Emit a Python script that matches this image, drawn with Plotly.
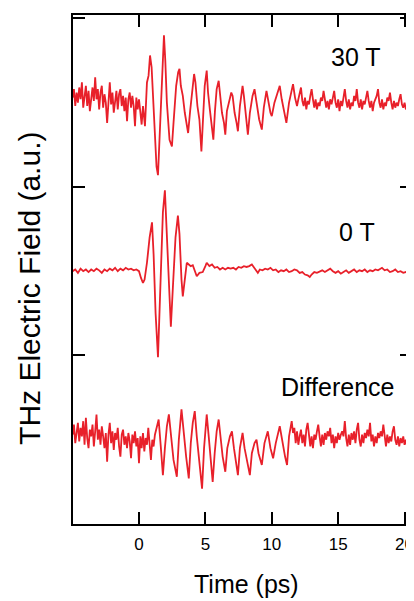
import plotly.graph_objects as go

# ---------------- data ----------------
# 30 T trace: time (ps) and field (a.u., relative to its own baseline)
t_30T = [
    -5.0, -4.9, -4.8, -4.7, -4.6, -4.5, -4.4, -4.3, -4.2, -4.1, -4.0, -3.9, -3.8, -3.7, -3.6,
    -3.5, -3.4, -3.3, -3.2, -3.1, -3.0, -2.9, -2.8, -2.7, -2.6, -2.5, -2.4, -2.3, -2.2, -2.1,
    -2.0, -1.9, -1.8, -1.7, -1.6, -1.5, -1.4, -1.3, -1.2, -1.1, -1.0, -0.9, -0.8, -0.7, -0.6,
    -0.5, -0.4, -0.3, -0.2, -0.1, 0.0, 0.1, 0.2, 0.3,
    0.45, 0.6, 0.72, 0.83, 0.95, 1.05, 1.2, 1.32, 1.43, 1.55, 1.7, 1.88, 1.98, 2.1, 2.3, 2.48,
    2.6, 2.8, 2.95, 3.05, 3.15, 3.3, 3.45, 3.6, 3.7, 3.85, 4.0, 4.15, 4.25, 4.4, 4.55, 4.7,
    4.82, 4.95, 5.1, 5.2, 5.35, 5.5, 5.6, 5.72, 5.85, 6.0, 6.1, 6.25, 6.4, 6.5, 6.62, 6.8,
    6.95, 7.05, 7.2, 7.35, 7.45, 7.6, 7.8, 7.9, 8.05, 8.2, 8.35, 8.55, 8.7, 8.85, 9.05, 9.25,
    9.4, 9.6, 9.75, 9.9, 10.0, 10.2, 10.4, 10.6, 10.75, 10.95, 11.1, 11.3, 11.45, 11.6, 11.75, 11.9,
    12.0, 12.1, 12.2, 12.3, 12.4, 12.5, 12.6, 12.7, 12.8, 12.9, 13.0, 13.1, 13.2, 13.3, 13.4,
    13.5, 13.6, 13.7, 13.8, 13.9, 14.0, 14.1, 14.2, 14.3, 14.4, 14.5, 14.6, 14.7, 14.8, 14.9,
    15.0, 15.1, 15.2, 15.3, 15.4, 15.5, 15.6, 15.7, 15.8, 15.9, 16.0, 16.1, 16.2, 16.3, 16.4,
    16.5, 16.6, 16.7, 16.8, 16.9, 17.0, 17.1, 17.2, 17.3, 17.4, 17.5, 17.6, 17.7, 17.8, 17.9,
    18.0, 18.1, 18.2, 18.3, 18.4, 18.5, 18.6, 18.7, 18.8, 18.9, 19.0, 19.1, 19.2, 19.3, 19.4,
    19.5, 19.6, 19.7, 19.8, 19.9, 20.0, 20.1, 20.2, 20.3, 20.4, 20.5,
]
e_30T = [
    0.03, 0.08, -0.02, 0.06, 0.00, 0.09, 0.02, 0.12, -0.03, 0.05, 0.10, -0.02, 0.07, -0.05, 0.04,
    0.09, 0.01, 0.15, 0.02, 0.08, -0.04, 0.06, 0.10, -0.03, 0.05, 0.00, -0.12, 0.04, 0.12, -0.01,
    0.06, -0.06, 0.03, 0.07, -0.04, 0.05, 0.08, -0.02, 0.04, -0.05, 0.03, -0.11, 0.02, 0.06, -0.03,
    0.04, -0.02, -0.14, 0.03, -0.04, 0.02, -0.06, -0.13, -0.02,
    -0.14, 0.12, 0.16, 0.28, 0.21, 0.05, -0.24, -0.38, -0.43, -0.20, 0.15, 0.40, 0.25, 0.00, -0.22, -0.26,
    -0.12, 0.10, 0.18, 0.20, 0.10, 0.04, -0.06, -0.14, -0.18, -0.05, 0.08, 0.17, 0.12, -0.02, -0.10, -0.29,
    -0.10, 0.10, 0.19, 0.06, -0.05, -0.14, -0.22, -0.05, 0.08, 0.13, 0.04, -0.06, -0.12, -0.19, -0.05, 0.02,
    0.06, 0.04, -0.06, -0.12, -0.17, -0.02, 0.10, 0.04, -0.08, -0.19, -0.06, 0.04, 0.08, 0.00, -0.10, -0.16,
    -0.03, 0.07, 0.00, -0.06, -0.08, 0.00, 0.05, 0.10, 0.02, -0.07, -0.12, 0.00, 0.06, 0.11, 0.03, -0.02,
    0.02, 0.05, 0.09, 0.01, -0.02, 0.03, -0.04, 0.01, -0.01, 0.04, 0.08, 0.02, -0.03, 0.02, -0.04,
    0.00, -0.02, 0.03, 0.01, 0.07, 0.02, -0.03, 0.01, -0.04, 0.02, -0.01, 0.03, 0.07, 0.00, -0.03,
    0.02, -0.05, 0.01, -0.02, 0.03, 0.08, 0.01, -0.03, 0.02, -0.04, 0.00, -0.02, 0.04, 0.01, 0.08,
    0.00, -0.03, 0.02, -0.04, 0.01, -0.01, 0.03, 0.07, 0.01, -0.03, 0.01, -0.05, 0.00, 0.02, 0.04,
    0.08, 0.00, -0.03, 0.02, -0.04, 0.00, -0.02, 0.03, 0.01, 0.06, 0.00, -0.04, 0.01, -0.03, 0.00,
    -0.02, 0.02, 0.05, -0.01, -0.03, 0.00, -0.04, -0.02, -0.06, -0.10, -0.05,
]

# 0 T trace
t_0T = [
    -5.0, -4.8, -4.6, -4.4, -4.2, -4.0, -3.8, -3.6, -3.4, -3.2, -3.0, -2.8, -2.6, -2.4, -2.2,
    -2.0, -1.8, -1.6, -1.4, -1.2, -1.0, -0.8, -0.6, -0.4, -0.2, 0.0,
    0.15, 0.3, 0.42, 0.6, 0.8, 0.98, 1.1, 1.25, 1.43, 1.6, 1.8, 1.95, 2.1, 2.25, 2.4, 2.55,
    2.75, 2.93, 3.05, 3.2, 3.3, 3.45, 3.6, 3.75, 3.9, 4.05, 4.2, 4.35, 4.55, 4.8, 5.0, 5.1,
    5.3, 5.5, 5.7, 5.9, 6.1, 6.3, 6.5, 6.7, 6.9, 7.1, 7.3, 7.5, 7.7, 7.9, 8.1, 8.3, 8.5, 8.7,
    8.95, 9.1, 9.3, 9.5, 9.7, 9.9, 10.1, 10.3, 10.5, 10.7, 10.9, 11.1, 11.3, 11.5, 11.7, 11.9,
    12.1, 12.3, 12.5, 12.7, 12.86, 13.0, 13.2, 13.4, 13.6, 13.8, 14.0, 14.2, 14.4, 14.6, 14.8,
    15.0, 15.2, 15.4, 15.6, 15.8, 16.0, 16.2, 16.4, 16.6, 16.8, 17.0, 17.2, 17.4, 17.6, 17.8,
    18.0, 18.3, 18.5, 18.7, 18.9, 19.1, 19.3, 19.5, 19.7, 19.9, 20.1, 20.3, 20.5,
]
e_0T = [
    0.00, 0.01, -0.01, 0.015, 0.00, 0.01, -0.005, 0.01, 0.00, 0.015, 0.005, -0.01, 0.01, 0.00, 0.015,
    0.005, 0.02, 0.00, 0.015, 0.005, 0.02, 0.01, 0.015, 0.005, 0.01, 0.00,
    -0.04, -0.07, -0.05, 0.05, 0.20, 0.29, 0.10, -0.25, -0.51, -0.05, 0.35, 0.48, 0.20, -0.15, -0.33, -0.10,
    0.20, 0.33, 0.22, -0.05, -0.15, -0.05, 0.05, 0.04, 0.03, 0.035, 0.00, -0.03, -0.01, -0.005, 0.03, 0.05,
    0.03, 0.04, 0.02, 0.025, 0.01, 0.02, 0.01, 0.02, 0.015, 0.02, 0.01, 0.025, 0.02, 0.03, 0.025, 0.03, 0.04, 0.02,
    -0.01, 0.01, 0.005, 0.015, 0.01, 0.02, 0.005, 0.01, -0.005, 0.005, 0.00, 0.01, -0.005, 0.00, 0.01, 0.005,
    -0.01, -0.005, -0.02, -0.025, -0.035, -0.02, -0.005, -0.01, 0.00, 0.005, -0.005, 0.005, 0.015, 0.00, -0.01,
    0.00, -0.015, -0.005, 0.005, -0.01, 0.00, 0.01, -0.005, 0.005, 0.00, 0.01, -0.005, 0.005, 0.00, 0.01,
    0.005, 0.02, 0.005, 0.01, -0.005, 0.00, 0.01, -0.005, 0.00, -0.01, -0.005, -0.015, -0.02,
]

# Difference trace
t_diff = [
    -5.0, -4.9, -4.8, -4.7, -4.6, -4.5, -4.4, -4.3, -4.2, -4.1, -4.0, -3.9, -3.8, -3.7, -3.6,
    -3.5, -3.4, -3.3, -3.2, -3.1, -3.0, -2.9, -2.8, -2.7, -2.6, -2.5, -2.4, -2.3, -2.2, -2.1,
    -2.0, -1.9, -1.8, -1.7, -1.6, -1.5, -1.4, -1.3, -1.2, -1.1, -1.0, -0.9, -0.8, -0.7, -0.6,
    -0.5, -0.4, -0.3, -0.2, -0.1, 0.0, 0.1, 0.2, 0.3, 0.4, 0.5, 0.6, 0.7, 0.8, 0.9, 1.0, 1.1,
    1.2, 1.3,
    1.48, 1.65, 1.8, 1.95, 2.1, 2.25, 2.4, 2.6, 2.85, 3.0, 3.2, 3.35, 3.55, 3.75, 3.9, 4.05,
    4.2, 4.35, 4.55, 4.75, 4.9, 5.1, 5.25, 5.4, 5.55, 5.7, 5.85, 6.0, 6.15, 6.3, 6.5, 6.65,
    6.85, 7.0, 7.15, 7.3, 7.45, 7.6, 7.8, 7.95, 8.15, 8.35, 8.5, 8.7, 8.85, 9.0, 9.25, 9.45,
    9.7, 9.9, 10.1, 10.3, 10.6, 10.8, 11.0, 11.15, 11.3, 11.5, 11.6, 11.7,
    11.8, 11.9, 12.0, 12.1, 12.2, 12.3, 12.4, 12.5, 12.6, 12.7, 12.8, 12.9, 13.0, 13.1, 13.2,
    13.3, 13.4, 13.5, 13.6, 13.7, 13.8, 13.9, 14.0, 14.1, 14.2, 14.3, 14.4, 14.5, 14.6, 14.7,
    14.8, 14.9, 15.0, 15.1, 15.2, 15.3, 15.4, 15.5, 15.6, 15.7, 15.8, 15.9, 16.0, 16.1, 16.2,
    16.3, 16.4, 16.5, 16.6, 16.7, 16.8, 16.9, 17.0, 17.1, 17.2, 17.3, 17.4, 17.5, 17.6, 17.7,
    17.8, 17.9, 18.0, 18.1, 18.2, 18.3, 18.4, 18.5, 18.6, 18.7, 18.8, 18.9, 19.0, 19.1, 19.2,
    19.3, 19.4, 19.5, 19.6, 19.7, 19.8, 19.9, 20.0, 20.1, 20.2, 20.3, 20.4, 20.5,
]
e_diff = [
    0.03, 0.09, -0.02, 0.06, 0.10, -0.01, 0.07, 0.02, 0.11, -0.03, 0.13, 0.01, -0.05, 0.06, 0.02,
    0.09, -0.04, 0.05, 0.15, 0.00, 0.06, -0.03, 0.08, 0.02, -0.05, 0.04, -0.13, 0.03, 0.10, -0.02,
    0.05, -0.06, 0.04, 0.00, 0.07, -0.04, -0.10, 0.03, 0.06, -0.03, 0.02, -0.05, 0.04, -0.01, -0.11,
    0.03, -0.02, 0.05, -0.04, 0.01, -0.14, 0.02, -0.05, 0.04, -0.07, 0.01, -0.03, 0.07, -0.06, -0.12, 0.00, -0.04,
    0.03, 0.06,
    0.12, -0.05, -0.21, -0.05, 0.08, 0.15, 0.02, -0.12, -0.22, 0.00, 0.18, 0.05, -0.10, -0.23, -0.02, 0.10,
    0.17, 0.02, -0.15, -0.29, -0.05, 0.15, 0.02, -0.12, -0.25, -0.08, 0.05, 0.12, 0.00, -0.10, -0.19, -0.05,
    0.02, 0.05, -0.05, -0.12, -0.21, -0.05, 0.04, -0.05, -0.14, -0.21, -0.08, -0.02, 0.00, -0.08, -0.15, -0.02,
    0.05, -0.05, -0.11, -0.02, 0.08, -0.02, -0.10, -0.15, 0.02, 0.11, 0.04, 0.07,
    -0.02, 0.05, -0.03, 0.02, 0.06, -0.02, 0.03, -0.04, 0.06, 0.10, 0.01, -0.04, 0.02, -0.05, 0.03,
    0.00, 0.05, 0.09, 0.02, -0.04, 0.03, -0.03, 0.04, 0.00, 0.05, 0.02, 0.07, -0.02, 0.03, -0.05,
    0.02, -0.02, 0.04, 0.00, 0.03, 0.05, 0.02, 0.11, 0.01, -0.04, 0.03, -0.03, 0.04, 0.00, 0.05,
    -0.02, 0.06, 0.10, 0.00, -0.04, 0.03, -0.02, 0.04, 0.01, 0.06, 0.02, 0.10, -0.01, 0.03, -0.04,
    0.02, -0.02, 0.04, 0.01, 0.05, 0.02, 0.09, 0.00, -0.04, 0.03, -0.02, 0.02, -0.01, 0.05, 0.08,
    0.00, -0.03, 0.02, -0.04, 0.01, -0.02, 0.02, -0.03, 0.00, -0.05, -0.08, -0.11, -0.06,
]

trace_labels = ["30 T", "0 T", "Difference"]
x_tick_vals = [0, 5, 10, 15, 20]
y_tick_vals = [0, 1, 2, 3]

# vertical offsets used to stack the traces
offset_30T = 2.5
offset_0T = 1.5
offset_diff = 0.5

# ---------------- figure ----------------
RED = "#e8202a"
FONT = "Arial, Liberation Sans, Helvetica, sans-serif"

fig = go.Figure()
for name, tt, ee, off in [
    ("30 T", t_30T, e_30T, offset_30T),
    ("0 T", t_0T, e_0T, offset_0T),
    ("Difference", t_diff, e_diff, offset_diff),
]:
    fig.add_trace(go.Scatter(
        x=tt, y=[v + off for v in ee], mode="lines", name=name,
        line=dict(color=RED, width=1.8), showlegend=False,
    ))

axis_common = dict(
    showline=True, linecolor="black", linewidth=2, mirror="ticks",
    ticks="inside", ticklen=12, tickwidth=1.5, tickcolor="black",
    showgrid=False, zeroline=False,
)
fig.update_xaxes(range=[-4.97, 20.56], tickvals=x_tick_vals,
                 tickfont=dict(family=FONT, size=17, color="black"),
                 ticklabelstandoff=4, ticklabeloverflow="allow",
                 automargin=False, **axis_common)
fig.update_yaxes(range=[0, 3.02], tickvals=y_tick_vals, showticklabels=False,
                 automargin=False, **axis_common)

# panel labels
label_pos = {"30 T": (16.36, 2.77), "0 T": (16.44, 1.73), "Difference": (15.0, 0.81)}
for lab in trace_labels:
    xx, yy = label_pos[lab]
    fig.add_annotation(x=xx, y=yy, xref="x", yref="y", text=lab, showarrow=False,
                       font=dict(family=FONT, size=25, color="black"),
                       xanchor="center", yanchor="middle")

# axis titles
fig.add_annotation(x=8.08, y=-0.118, xref="x", yref="paper", text="Time (ps)",
                   showarrow=False, font=dict(family=FONT, size=25, color="black"),
                   xanchor="center", yanchor="middle")
fig.add_annotation(x=-0.127, y=0.4637, xref="paper", yref="paper",
                   text="THz Electric Field (a.u.)", textangle=-90, showarrow=False,
                   font=dict(family=FONT, size=30, color="black"),
                   xanchor="center", yanchor="middle")

# the page body adds an 8 px offset, so the figure is 8 px smaller
fig.update_layout(
    width=406, height=593,
    margin=dict(l=65, r=2, t=7, b=77),
    paper_bgcolor="white", plot_bgcolor="white",
)

fig.write_html("out.html")
